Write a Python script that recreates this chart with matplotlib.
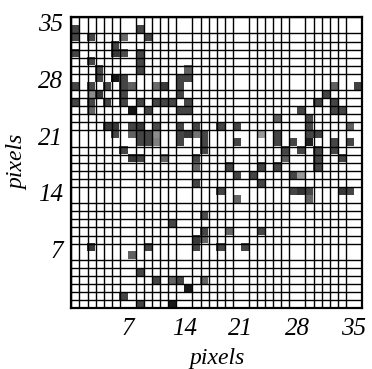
import numpy as np
import matplotlib
matplotlib.use("Agg")
import matplotlib.pyplot as plt

# grid size (pixels per side)
n = 36

# dark cells: row index counted from the top, column from the left, grey level (0 black .. 1 white)
rows = [1, 1,
        2, 2, 2, 2,
        3,
        4, 4, 4, 4,
        5, 5,
        6, 6, 6,
        7, 7, 7, 7, 7,
        8, 8, 8, 8, 8, 8, 8, 8,
        9, 9, 9, 9,
        10, 10, 10, 10, 10, 10, 10, 10, 10,
        11, 11, 11, 11, 11,
        13, 13, 13, 13, 13, 13, 13,
        14, 14, 14, 14, 14, 14, 14, 14, 14,
        15, 15, 15, 15, 15,
        16, 16,
        17, 17, 17, 17,
        18, 20,
        24, 25, 26, 27, 27,
        28, 28, 28,
        29, 31,
        32, 32, 32, 32,
        33, 34, 35, 35,
        # right half
        8, 8, 9, 10, 10, 11, 11, 11,
        12, 12, 13, 13, 13, 13,
        14, 14, 14, 14,
        15, 15, 15, 15, 15, 15,
        16, 16, 16, 16,
        17, 17, 17,
        18, 18, 18, 18,
        19, 19, 19, 19,
        20,
        21, 21, 21, 21, 21, 21,
        22, 22,
        26, 26, 28, 28]
cols = [0, 8,
        0, 2, 6, 9,
        5,
        0, 5, 6, 8,
        2, 8,
        3, 8, 14,
        3, 5, 6, 13, 14,
        0, 2, 4, 6, 7, 10, 11, 13,
        2, 3, 6, 13,
        0, 2, 4, 6, 8, 10, 11, 12, 14,
        2, 7, 9, 13, 14,
        4, 5, 7, 8, 10, 13, 15,
        5, 7, 8, 9, 10, 13, 14, 15, 16,
        8, 9, 10, 13, 16,
        6, 16,
        7, 8, 11, 15,
        15, 15,
        16, 12, 16, 15, 16,
        2, 9, 15,
        7, 8,
        10, 12, 13, 16,
        14, 6, 8, 12,
        # right half
        32, 35, 31, 30, 32, 28, 32, 33,
        25, 29, 18, 20, 29, 34,
        23, 25, 29, 30,
        20, 25, 27, 29, 32, 34,
        26, 28, 30, 32,
        26, 30, 33,
        19, 23, 25, 30,
        20, 22, 27, 28,
        23,
        18, 27, 28, 29, 33, 34,
        20, 29,
        19, 23, 18, 21]
shades = [0.27, 0.27,
          0.27, 0.27, 0.42, 0.27,
          0.27,
          0.27, 0.22, 0.30, 0.27,
          0.27, 0.27,
          0.27, 0.27, 0.38,
          0.27, 0.08, 0.27, 0.27, 0.27,
          0.27, 0.27, 0.27, 0.27, 0.38, 0.42, 0.22, 0.27,
          0.55, 0.22, 0.27, 0.27,
          0.27, 0.27, 0.27, 0.27, 0.27, 0.27, 0.27, 0.27, 0.27,
          0.40, 0.08, 0.27, 0.27, 0.27,
          0.22, 0.22, 0.27, 0.22, 0.30, 0.27, 0.27,
          0.27, 0.38, 0.27, 0.27, 0.55, 0.27, 0.22, 0.45, 0.27,
          0.27, 0.27, 0.50, 0.27, 0.27,
          0.27, 0.27,
          0.22, 0.27, 0.40, 0.27,
          0.40, 0.27,
          0.30, 0.27, 0.27, 0.22, 0.40,
          0.22, 0.27, 0.27,
          0.38, 0.27,
          0.27, 0.40, 0.27, 0.40,
          0.10, 0.27, 0.27, 0.10,
          # right half
          0.38, 0.25, 0.27, 0.27, 0.27, 0.27, 0.27, 0.27,
          0.38, 0.27, 0.27, 0.27, 0.27, 0.38,
          0.60, 0.27, 0.27, 0.27,
          0.27, 0.27, 0.27, 0.12, 0.27, 0.27,
          0.27, 0.27, 0.27, 0.27,
          0.38, 0.27, 0.27,
          0.27, 0.27, 0.27, 0.27,
          0.27, 0.27, 0.27, 0.60,
          0.27,
          0.27, 0.27, 0.20, 0.27, 0.22, 0.27,
          0.40, 0.40,
          0.40, 0.27, 0.27, 0.27]
tick_vals = [7, 14, 21, 28, 35]

img = np.ones((n, n))
for r, c, s in zip(rows, cols, shades):
    img[r, c] = s

fig = plt.figure(figsize=(3.72, 3.69), dpi=100)
ax = fig.add_axes([0.192, 0.1645, 0.781, 0.7886])
ax.imshow(img, cmap="gray", vmin=0, vmax=1, extent=(0, n, 0, n),
          origin="upper", interpolation="nearest", aspect="auto")

# pixel grid
ax.set_xticks(np.arange(0, n + 1), minor=True)
ax.set_yticks(np.arange(0, n + 1), minor=True)
ax.grid(which="minor", color="black", linewidth=1.0)
ax.tick_params(which="minor", length=0)

tick_font = dict(family="Liberation Serif", style="italic", size=18)
lab_font = dict(family="Liberation Serif", style="italic", size=17)
ax.set_xticks(tick_vals)
ax.set_yticks(tick_vals)
ax.set_xticklabels([str(v) for v in tick_vals], **tick_font)
ax.set_yticklabels([str(v) for v in tick_vals], va="center", **tick_font)
ax.tick_params(which="major", length=0)
ax.tick_params(axis="x", pad=7)
ax.tick_params(axis="y", pad=6)
ax.set_xlim(0, n)
ax.set_ylim(0, n)

ax.set_xlabel("pixels", labelpad=6, **lab_font)
ax.set_ylabel("pixels", labelpad=7, **lab_font)

for sp in ax.spines.values():
    sp.set_linewidth(1.6)

fig.savefig("out.png", dpi=100)
